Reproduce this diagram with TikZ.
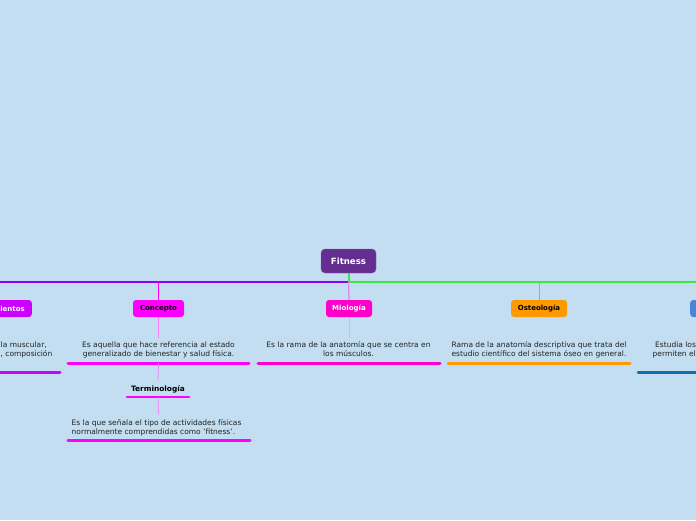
\documentclass[tikz,border=0pt]{standalone}
\usepackage{fontspec}
\setmainfont{DejaVu Sans}
\definecolor{bg}{HTML}{C2DEF0}
\definecolor{cfit}{HTML}{662D91}
\definecolor{cviol}{HTML}{8C00FF}
\definecolor{cgreen}{HTML}{3BE83B}
\definecolor{cleft}{HTML}{CC00FF}
\definecolor{cmag}{HTML}{FF00FF}
\definecolor{cmio}{HTML}{FF00CC}
\definecolor{cost}{HTML}{FF9900}
\definecolor{cblue}{HTML}{4A86D8}
\definecolor{cblueline}{HTML}{0E6FAD}
\definecolor{ctext}{HTML}{222222}
\tikzset{
  root/.style={rounded corners=4pt, fill=cfit, draw=cfit!80!white, text=white, font=\fontsize{8.6}{10}\selectfont\bfseries, minimum width=55pt, minimum height=24pt, inner sep=0pt},
  topic/.style={rounded corners=3pt, minimum height=17pt, inner sep=0pt, font=\fontsize{7}{8}\selectfont\bfseries},
  desc/.style={text=ctext, font=\fontsize{7.5}{9}\selectfont, inner sep=0pt},
  uline/.style={line width=3pt, line cap=round},
  thinlink/.style={line width=0.8pt},
}
\begin{document}
\begin{tikzpicture}[x=1pt,y=-1pt]
\useasboundingbox (0,0) rectangle (696,520);
\fill[bg] (0,0) rectangle (696,520);
\clip (0,0) rectangle (696,520);

% trunk coordinates
\coordinate (tl) at (0,282);
\coordinate (tm) at (348.5,282);
\coordinate (tr) at (696,282);
\coordinate (tcon) at (158.5,282);
\coordinate (tost) at (539,282);

% root
\node[root] (fit) at (348.5,261) {Fitness};

% trunk lines
\draw[cviol, line width=2pt] (tl) -- (tm);
\draw[cgreen, line width=2pt] (tm) -- (tr);
\draw[cgreen, line width=2pt] (fit.south) -- (tm);

% topic nodes
\node[topic, fill=cleft, text=white, text width=50pt, align=right, inner xsep=7pt, anchor=east] (req) at (32,308.5) {ientos};
\node[topic, fill=cmag, text=black, minimum width=51pt] (con) at (158.5,308.5) {Concepto};
\node[topic, fill=cmio, text=white, minimum width=46pt] (mio) at (349,308.5) {Miología};
\node[topic, fill=cost, text=black, minimum width=56pt] (ost) at (539,308.5) {Osteología};
\node[topic, fill=cblue, minimum width=40pt, anchor=west] (blu) at (690,308.5) {};

% trunk to topics
\draw[cmag, line width=1pt] (tcon) -- (con.north);
\draw[cmio!60!cviol!50!white, line width=1.2pt] (tm) -- (mio.north);
\draw[cost!80!black!70!white, line width=0.8pt] (tost) -- (ost.north);

% descriptions
\node[desc, anchor=west] (ld1) at (0.5,345) {la muscular,};
\node[desc, anchor=east] (ld2) at (52.5,354) {, composición};
\node[desc, align=center] (cond) at (158.5,349.5) {Es aquella que hace referencia al estado\\generalizado de bienestar y salud física.};
\node[desc, align=center] (miod) at (348.5,349.5) {Es la rama de la anatomía que se centra en\\los músculos.};
\node[desc, align=center] (ostd) at (539,349.5) {Rama de la anatomía descriptiva que trata del\\estudio científico del sistema óseo en general.};
\node[desc, anchor=west] (rd1) at (655,345) {Estudia los};
\node[desc, anchor=west] (rd2) at (652.5,354) {permiten el};

% topic to description links
\coordinate (cont) at (158.5,338);
\coordinate (miot) at (349,338);
\coordinate (ostt) at (539,338);
\draw[cmag!50!white, thinlink] (con.south) -- (cont);
\draw[cviol!30!cmio!35!white, thinlink] (mio.south) -- (miot);
\draw[cost!45!white, thinlink] (ost.south) -- (ostt);

% underlines
\draw[uline, cleft] (-5,372) -- (60,372);
\draw[uline, cmag] (68,363) -- (249,363);
\draw[uline, cmio] (258,363) -- (440,363);
\draw[uline, cost] (448,363) -- (630,363);
\draw[uline, cblueline] (638,372) -- (705,372);

% Terminologia
\coordinate (conu) at (158.5,363);
\node[topic, text=black, fill=none, font=\fontsize{7.4}{8}\selectfont\bfseries] (ter) at (158,389) {Terminología};
\draw[cmag!50!white, thinlink] (conu) -- (ter.north);
\draw[uline, cmag, line width=2.5pt] (127,397) -- (189,397);
\coordinate (teru) at (158,397);
\coordinate (tert) at (158.5,414);
\draw[cmag!50!white, thinlink] (teru) -- (tert);
\node[desc, align=left, anchor=west] (terd) at (71.5,427.5) {Es la que señala el tipo de actividades físicas\\normalmente comprendidas como 'fitness'.};
\draw[uline, cmag] (68,440) -- (250,440);
\end{tikzpicture}
\end{document}
